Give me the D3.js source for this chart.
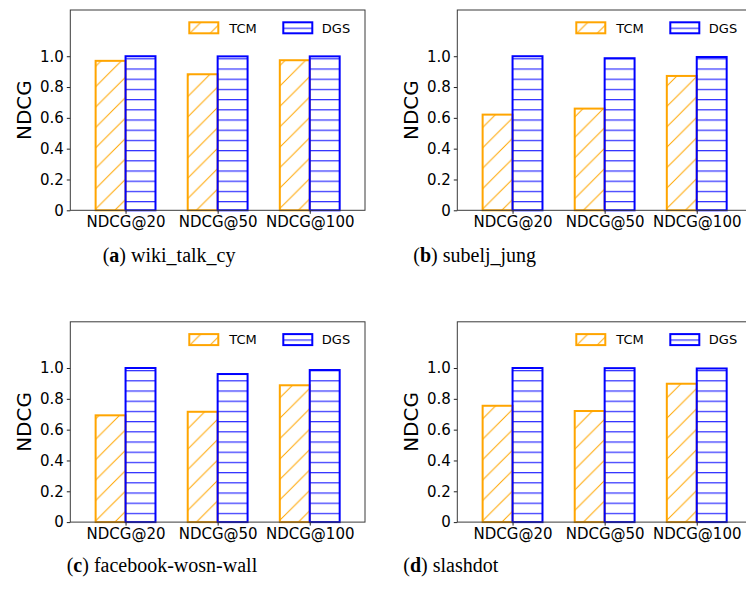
<!DOCTYPE html>
<html>
<head>
<meta charset="utf-8">
<script src="https://cdn.jsdelivr.net/npm/d3@7"></script>
<style>
  body { margin: 0; background: #fff; }
</style>
</head>
<body>
<script>
const w = 746;
const h = 589;

// data
const categories = ["NDCG@20", "NDCG@50", "NDCG@100"];
const seriesNames = ["TCM", "DGS"];
const panelLetters = ["a", "b", "c", "d"];
const datasetNames = ["wiki_talk_cy", "subelj_jung", "facebook-wosn-wall", "slashdot"];
const tcmValues = [
  [0.970, 0.883, 0.974],
  [0.621, 0.660, 0.872],
  [0.693, 0.716, 0.888],
  [0.755, 0.721, 0.898]
];
const dgsValues = [
  [1.000, 0.999, 0.999],
  [1.000, 0.987, 0.995],
  [1.000, 0.961, 0.987],
  [1.000, 0.999, 0.997]
];
const yTicks = [0, 0.2, 0.4, 0.6, 0.8, 1.0];

// layout
const panelW = 294.7;
const panelH = 200.3;
const panels = [
  { left: 70.3, top: 10 },
  { left: 457.3, top: 10 },
  { left: 70.3, top: 321.8 },
  { left: 457.3, top: 321.8 }
];
const captions = [
  { x: 102.7, y: 261.5 },
  { x: 413.3, y: 261.5 },
  { x: 66.7, y: 571.5 },
  { x: 403.3, y: 571.5 }
];
const colors = ["#FFA500", "#0000FF"];
const barW = 0.325;

const svg = d3.select("body")
  .append("svg")
  .attr("width", w)
  .attr("height", h)
  .style("background-color", "white");

// hatch patterns
const defs = svg.append("defs");
const diag = defs.append("pattern")
  .attr("id", "hatch-tcm")
  .attr("patternUnits", "userSpaceOnUse")
  .attr("width", 20.4)
  .attr("height", 20.4);
diag.append("path")
  .attr("d", "M-5.1,5.1 L5.1,-5.1 M0,20.4 L20.4,0 M15.3,25.5 L25.5,15.3")
  .attr("stroke", colors[0])
  .attr("stroke-width", 1)
  .attr("fill", "none");

const horiz = defs.append("pattern")
  .attr("id", "hatch-dgs")
  .attr("patternUnits", "userSpaceOnUse")
  .attr("width", 10)
  .attr("height", 10.2);
horiz.append("line")
  .attr("x1", 0).attr("x2", 10)
  .attr("y1", 8.1).attr("y2", 8.1)
  .attr("stroke", colors[1])
  .attr("stroke-width", 1);

const fills = ["url(#hatch-tcm)", "url(#hatch-dgs)"];

const x = d3.scaleLinear()
  .domain([-0.6, 2.6])
  .range([0, panelW]);

const y = d3.scaleLinear()
  .domain([0, 1.3])
  .range([panelH, 0]);

panels.forEach((p, i) => {
  const g = svg.append("g")
    .attr("transform", `translate(${p.left}, ${p.top})`);

  const series = [tcmValues[i], dgsValues[i]];

  // Bars
  series.forEach((vals, s) => {
    g.selectAll(".bar-" + s)
      .data(vals)
      .enter()
      .append("rect")
        .attr("class", "bar-" + s)
        .attr("x", (d, k) => x(k + (s === 0 ? -barW : 0)))
        .attr("y", d => y(d))
        .attr("width", x(barW) - x(0))
        .attr("height", d => y(0) - y(d))
        .attr("fill", fills[s])
        .attr("stroke", colors[s])
        .attr("stroke-width", 2);
  });

  // Left axis
  const yAxis = d3.axisLeft(y)
    .tickValues(yTicks)
    .tickFormat(d => d === 0 ? "0" : d3.format(".1f")(d))
    .tickSize(3.5)
    .tickPadding(3);
  const ya = g.append("g").call(yAxis);
  ya.select(".domain").remove();

  // Bottom axis
  const xAxis = d3.axisBottom(x)
    .tickValues([0, 1, 2])
    .tickFormat(k => categories[k])
    .tickSize(3.5)
    .tickPadding(3);
  const xa = g.append("g")
    .attr("transform", `translate(0, ${panelH})`)
    .call(xAxis);
  xa.select(".domain").remove();

  [ya, xa].forEach(a => {
    a.selectAll("text")
      .style("font-family", "'DejaVu Sans', sans-serif")
      .style("font-size", "15px")
      .attr("fill", "#000");
    a.selectAll("line").attr("stroke", "#222").attr("stroke-width", 1);
  });

  // frame
  g.append("rect")
    .attr("width", panelW)
    .attr("height", panelH)
    .attr("fill", "none")
    .attr("stroke", "#3a3a3a")
    .attr("stroke-width", 1);

  // y label
  g.append("text")
    .attr("transform", `translate(-39, ${panelH / 2}) rotate(-90)`)
    .attr("text-anchor", "middle")
    .style("font-family", "'DejaVu Sans', sans-serif")
    .style("font-size", "20px")
    .text("NDCG");

  // Legend
  const legendX = [119, 213];
  const legendTextX = [159, 251.5];
  seriesNames.forEach((name, s) => {
    g.append("rect")
      .attr("x", legendX[s])
      .attr("y", 12.3)
      .attr("width", 29)
      .attr("height", 11)
      .attr("fill", fills[s])
      .attr("stroke", colors[s])
      .attr("stroke-width", 2);
    g.append("text")
      .attr("x", legendTextX[s])
      .attr("y", 22.6)
      .style("font-family", "'DejaVu Sans', sans-serif")
      .style("font-size", "13px")
      .text(name);
  });
});

// sub captions
captions.forEach((c, i) => {
  const t = svg.append("text")
    .attr("x", c.x)
    .attr("y", c.y)
    .style("font-family", "'Liberation Serif', serif")
    .style("font-size", "20px");
  t.append("tspan").text("(");
  t.append("tspan").style("font-weight", "bold").text(panelLetters[i]);
  t.append("tspan").text(")");
  t.append("tspan").text(" " + datasetNames[i]);
});
</script>
</body>
</html>
